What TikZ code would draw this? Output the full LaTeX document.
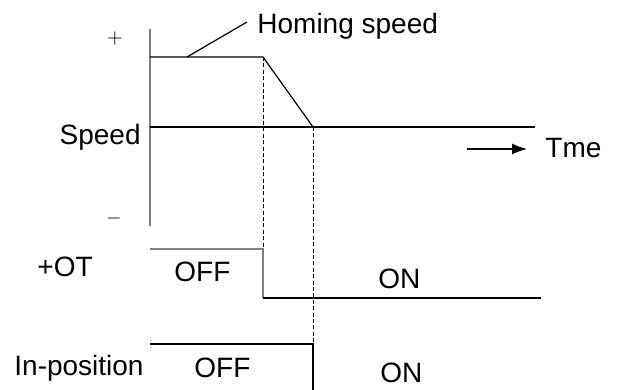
\documentclass[tikz,border=0pt]{standalone}
\usepackage{fontspec}
\setmainfont{Liberation Sans}
\usetikzlibrary{arrows.meta}

\begin{document}
\begin{tikzpicture}[
    x=0.5pt, y=-0.5pt,
    lbl/.style={inner sep=0pt, font=\fontsize{14}{16}\selectfont},
    sign/.style={inner sep=0pt, font=\fontsize{10}{12}\selectfont},
    wave/.style={line width=0.6pt},
    guide/.style={line width=0.5pt, dash pattern=on 2pt off 1.2pt},
    arrow/.style={-{Latex[length=7.5pt,width=5.5pt]}, line width=0.6pt}
  ]
  \useasboundingbox (0,0) rectangle (617,390);

  % Axis
  \coordinate (axtop) at (150,29);
  \coordinate (axbot) at (150,226);
  \draw[line width=1pt, gray] (axtop) -- (axbot);
  \node[sign] (plus) at (115,39) {$+$};
  \node[sign] (minus) at (114,219) {$-$};
  \node[lbl, anchor=base east] (speed) at (141,145) {Speed};

  % Speed profile
  \coordinate (hs0) at (150,57);
  \coordinate (hs1) at (263,57);
  \coordinate (z0) at (150,127);
  \coordinate (z1) at (313,127);
  \coordinate (z2) at (535,127);
  \draw[wave] (hs0) -- (hs1) -- (z1);
  \draw[wave] (z0) -- (z2);

  \node[lbl, anchor=base west] (homing) at (257,34) {Homing speed};
  \coordinate (lead0) at (187,57);
  \coordinate (lead1) at (247,22);
  \draw[wave] (lead0) -- (lead1);

  \node[lbl, anchor=base west] (tme) at (545,158) {Tme};
  \coordinate (t0) at (467,149);
  \draw[arrow, shorten >=9pt] (t0) -- (t0 -| tme.west);

  % +OT
  \node[lbl, anchor=base west] (ot) at (37,277) {+OT};
  \coordinate (ot0) at (150,249);
  \coordinate (ot1) at (263,249);
  \coordinate (ot2) at (263,298);
  \coordinate (ot3) at (541,298);
  \draw[wave, gray] (ot0) -- (ot1) -- (ot2);
  \draw[wave] (ot2) -- (ot3);
  \node[lbl, anchor=base west] (otoff) at (174,282) {OFF};
  \node[lbl, anchor=base west] (oton) at (378,289) {ON};

  % In-position
  \node[lbl, anchor=base west] (inpos) at (14,376) {In-position};
  \coordinate (ip0) at (150,344);
  \coordinate (ip1) at (313,344);
  \coordinate (ip2) at (313,390);
  \draw[wave] (ip0) -- (ip1) -- (ip2);
  \node[lbl, anchor=base west] (ipoff) at (194,378) {OFF};
  \node[lbl, anchor=base west] (ipon) at (380,383) {ON};

  % Guides
  \draw[guide] (hs1) -- (ot1);
  \draw[guide] (z1) -- (ip1);

\end{tikzpicture}
\end{document}
